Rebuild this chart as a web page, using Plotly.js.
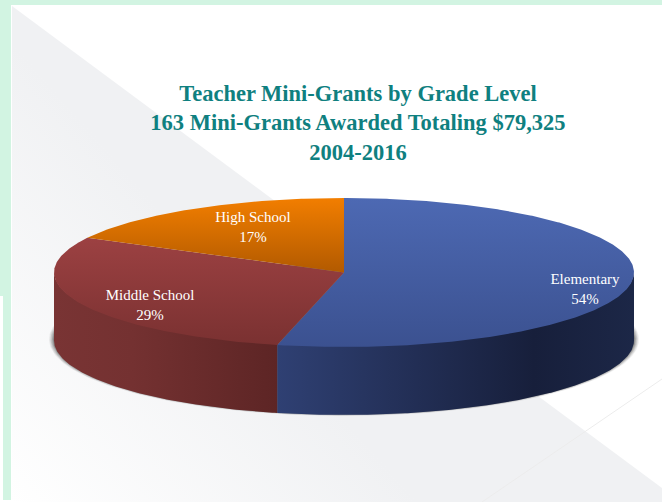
<!DOCTYPE html>
<html>
<head>
<meta charset="utf-8">
<script src="https://cdn.plot.ly/plotly-3.0.1.min.js"></script>
<style>html,body{margin:0;padding:0;background:#fff}#chart{width:662px;height:502px}</style>
</head>
<body>
<div id="chart"></div>
<script>
// ---- data ----
const categories = ['Elementary', 'Middle School', 'High School'];
const percents = [53.7, 29, 17.3];
const titleLines = ['Teacher Mini-Grants by Grade Level', '163 Mini-Grants Awarded Totaling $79,325', '2004-2016'];

// ---- styling / geometry ----
const W = 662, H = 502;
const cx = 344, cy = 272.5, rx = 290, ry = 74.5, depth = 68;
const topGrad = [['#3b5190', '#4d69b3'], ['#7a3131', '#9c4142'], ['#b25a00', '#f27e00']];
const wallGrad = [
  [[0, '#2f4073'], [0.72, '#171f3b'], [1, '#1c2747']],
  [[0, '#793434'], [0.35, '#743131'], [1, '#5d2525']],
  [[0, '#8a4500'], [1, '#8a4500']]
];
const labelPos = [[585, 290], [150, 306], [253, 228]];
const SERIF = '"Liberation Serif", serif';

function pt(deg, dy) {
  const a = deg * Math.PI / 180;
  return [cx + rx * Math.sin(a), cy - ry * Math.cos(a) + (dy || 0)];
}
function arc(a, b, dy) {
  const out = [], n = Math.max(2, Math.ceil(Math.abs(b - a) * 2));
  for (let i = 0; i <= n; i++) out.push(pt(a + (b - a) * i / n, dy));
  return out;
}
function poly(points, extra) {
  return Object.assign({
    type: 'scatter', mode: 'lines', fill: 'toself',
    x: points.map(p => p[0]), y: points.map(p => p[1]),
    line: {width: 0}, hoverinfo: 'skip', showlegend: false
  }, extra);
}

// slice angles from the data
const total = percents.reduce((s, v) => s + v, 0);
let run = 0;
const spans = percents.map(v => { const s = [run, run + v / total * 360]; run = s[1]; return s; });

const traces = [];
// soft shadow beneath the pie
[[5, 0.08], [4, 0.11], [3, 0.15], [2, 0.2], [1, 0.28]].forEach(([g, o]) => {
  const e = [];
  for (let d = 0; d <= 360; d += 1) {
    const a = d * Math.PI / 180;
    e.push([cx + (rx + g) * Math.sin(a), cy + depth - 1 + (ry + g * 0.4) * -Math.cos(a)]);
  }
  traces.push(poly(e, {fillcolor: 'rgba(60,60,60,' + o + ')'}));
});
// outer walls
spans.forEach((s, i) => {
  const a = Math.max(s[0], 90), b = Math.min(s[1], 270);
  if (b <= a) return;
  const pts = arc(a, b, -1).concat(arc(b, a, depth));
  traces.push(poly(pts, {
    fillcolor: wallGrad[i][0][1],
    fillgradient: {type: 'horizontal', colorscale: wallGrad[i]}
  }));
});
// top faces (y axis is reversed, so the scale runs bottom to top)
spans.forEach((s, i) => {
  const pts = [[cx, cy]].concat(arc(s[0], s[1], 0));
  pts.push([cx, cy]);
  traces.push(poly(pts, {
    fillcolor: topGrad[i][1],
    fillgradient: {type: 'vertical', colorscale: [[0, topGrad[i][0]], [1, topGrad[i][1]]]}
  }));
});
// real text labels
traces.push({
  type: 'scatter', mode: 'text',
  x: labelPos.map(p => p[0]), y: labelPos.map(p => p[1]),
  text: categories.map((c, i) => c + '<br>' + Math.round(percents[i]) + '%'),
  textposition: 'middle center',
  textfont: {family: SERIF, size: 15, color: '#ffffff'},
  hoverinfo: 'skip', showlegend: false
});

// page backdrop
const bgSvg = `<svg xmlns="http://www.w3.org/2000/svg" width="${W}" height="${H}" viewBox="0 0 ${W} ${H}">
<defs><linearGradient id="g" gradientUnits="userSpaceOnUse" x1="11" y1="502" x2="240" y2="300">
<stop offset="0" stop-color="#ffffff"/><stop offset="1" stop-color="#f0f1f3"/></linearGradient></defs>
<rect width="${W}" height="${H}" fill="#ffffff"/>
<polygon points="12,6 662,488 662,502 12,502" fill="url(#g)"/>
<path d="M662,379 L482,502" stroke="#ececec" stroke-width="1" fill="none"/>
<rect x="0" y="0" width="${W}" height="5" fill="#d2f4e2"/>
<rect x="0" y="5" width="11" height="291" fill="#d2f4e2"/>
<rect x="3" y="296" width="8" height="204" fill="#d2f4e2"/>
</svg>`;

const layout = {
  width: W, height: H,
  margin: {l: 0, r: 0, t: 0, b: 0, pad: 0},
  paper_bgcolor: 'rgba(0,0,0,0)', plot_bgcolor: 'rgba(0,0,0,0)',
  showlegend: false, hovermode: false,
  xaxis: {range: [0, W], visible: false, fixedrange: true},
  yaxis: {range: [H, 0], visible: false, fixedrange: true},
  title: {
    text: titleLines.join('<br>'),
    font: {family: SERIF, size: 22.5, color: '#0f8080', weight: 'bold'},
    x: 358 / W, xanchor: 'center', xref: 'paper',
    y: 1 - 101 / H, yanchor: 'top', yref: 'paper', automargin: false
  },
  images: [{
    source: 'data:image/svg+xml;charset=utf-8,' + encodeURIComponent(bgSvg),
    xref: 'paper', yref: 'paper', x: 0, y: 1, sizex: 1, sizey: 1,
    xanchor: 'left', yanchor: 'top', sizing: 'stretch', layer: 'below'
  }]
};
Plotly.newPlot('chart', traces, layout, {displayModeBar: false, staticPlot: true});
</script>
</body>
</html>
